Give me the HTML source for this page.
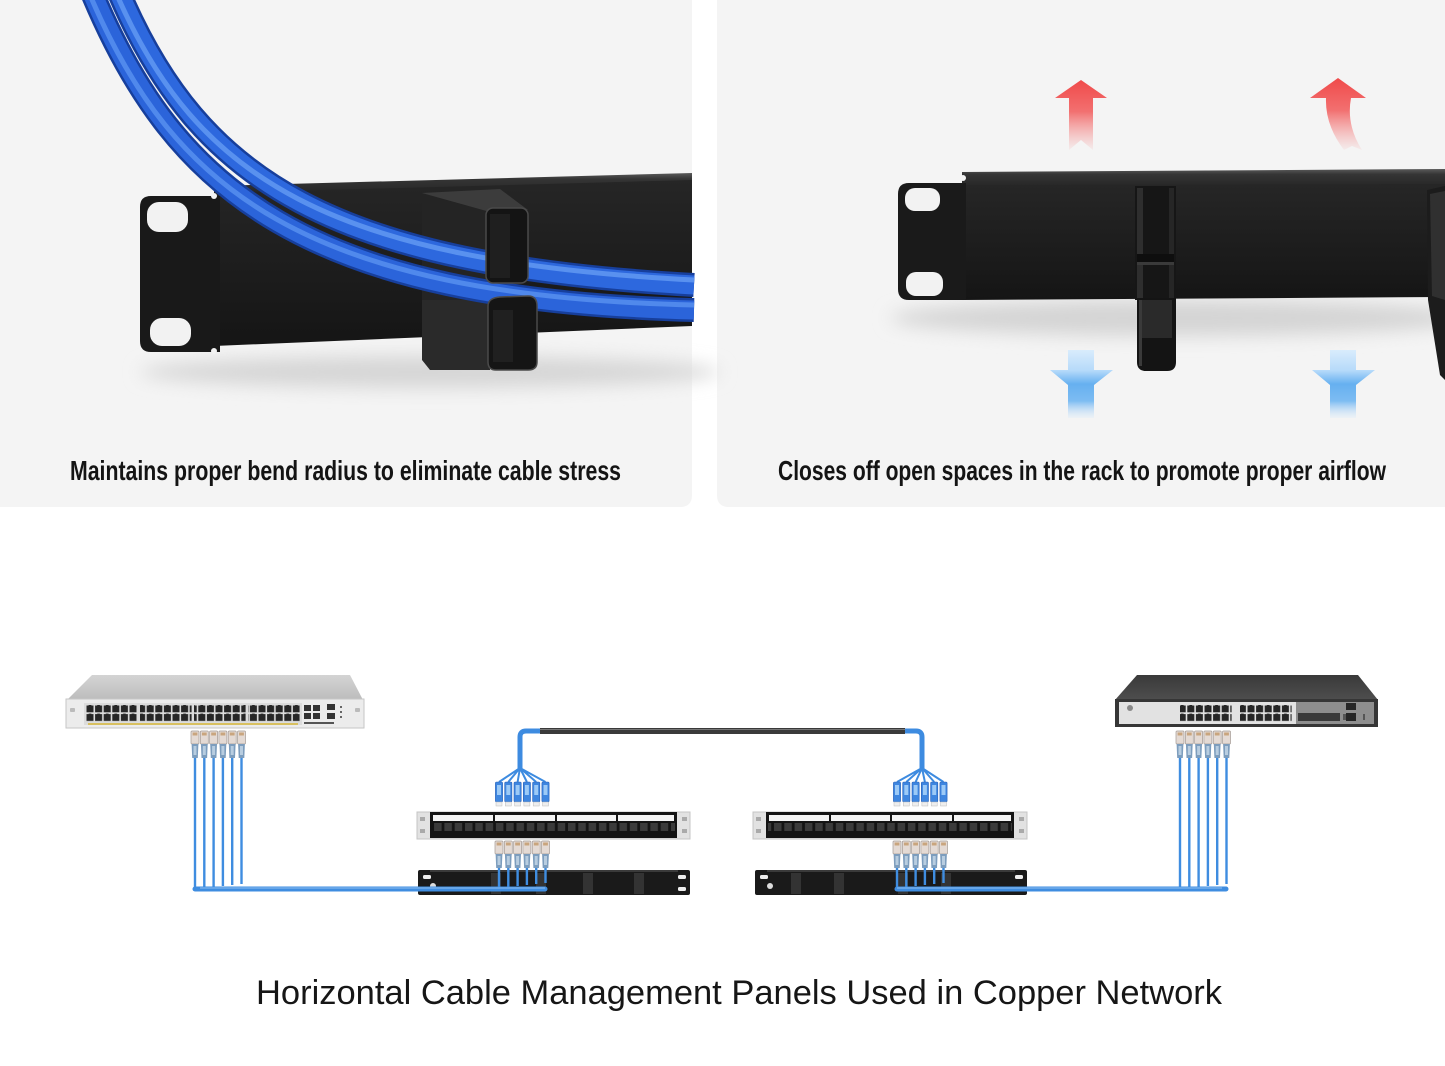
<!DOCTYPE html>
<html><head><meta charset="utf-8">
<style>
html,body{margin:0;padding:0;background:#fff;}
svg{display:block}
.cap{font-family:"Liberation Sans Narrow","Liberation Sans",sans-serif;font-weight:bold;fill:#141414;}
.cap2{font-family:"Liberation Sans Narrow","Liberation Sans",sans-serif;font-weight:normal;fill:#161616;}
</style></head><body>
<svg width="1445" height="1066" viewBox="0 0 1445 1066" xmlns="http://www.w3.org/2000/svg">
<defs>
  <filter id="blur8" x="-30%" y="-200%" width="160%" height="500%"><feGaussianBlur stdDeviation="9"/></filter>
  <linearGradient id="bodyL" x1="0" y1="0" x2="0" y2="1">
    <stop offset="0" stop-color="#262626"/><stop offset="1" stop-color="#151515"/>
  </linearGradient>
  <linearGradient id="lip" x1="0" y1="0" x2="0" y2="1">
    <stop offset="0" stop-color="#5a5a5a"/><stop offset="0.3" stop-color="#353535"/><stop offset="1" stop-color="#262626"/>
  </linearGradient>
  <linearGradient id="red" x1="0" y1="0" x2="0" y2="1">
    <stop offset="0" stop-color="#f04a4a"/><stop offset="0.45" stop-color="#f27070"/><stop offset="1" stop-color="#f6a0a0" stop-opacity="0.1"/>
  </linearGradient>
  <linearGradient id="blu" x1="0" y1="0" x2="0" y2="1">
    <stop offset="0" stop-color="#d9ecfc"/><stop offset="0.3" stop-color="#b6dafa"/><stop offset="0.5" stop-color="#66b0f0"/><stop offset="0.75" stop-color="#7dbcf2"/><stop offset="1" stop-color="#cfe6fb" stop-opacity="0.2"/>
  </linearGradient>
  <linearGradient id="swTop" x1="0" y1="0" x2="0" y2="1">
    <stop offset="0" stop-color="#d4d4d4"/><stop offset="1" stop-color="#bcbcbc"/>
  </linearGradient>
  <linearGradient id="swTop2" x1="0" y1="0" x2="0" y2="1">
    <stop offset="0" stop-color="#3a3a3a"/><stop offset="1" stop-color="#4e4e4e"/>
  </linearGradient>
  <pattern id="swp" x="0" y="705" width="8.6" height="8.6" patternUnits="userSpaceOnUse">
    <rect x="0.5" y="0.5" width="7" height="6.8" fill="#262626"/>
    <rect x="2.6" y="0" width="2.8" height="1.4" fill="#262626"/>
  </pattern>
  <pattern id="ppp" x="0" y="823" width="10.3" height="12" patternUnits="userSpaceOnUse">
    <rect x="1.5" y="0" width="7.5" height="8" fill="#3b3b3b"/>
  </pattern>
  <g id="plug">
    <rect x="0" y="0" width="8" height="13" rx="1" fill="#e4dad4" stroke="#a49a94" stroke-width="0.7"/>
    <rect x="1.6" y="1.5" width="4.8" height="3" fill="#c9a57e"/>
    <path d="M0.6 13 H7.4 L6.8 27 H1.2 Z" fill="#7d9dbd"/>
    <rect x="2.5" y="15" width="3" height="9" fill="#b8cde0"/>
  </g>
  <g id="lc">
    <rect x="0" y="0" width="7.2" height="20" rx="1.2" fill="#3e86e0" stroke="#2a62b8" stroke-width="0.6"/>
    <rect x="1.6" y="3" width="4" height="10" fill="#9ccaf7"/>
    <rect x="0.6" y="20" width="6" height="4" fill="#eeeeee" stroke="#bbb" stroke-width="0.5"/>
  </g>
</defs>

<rect width="1445" height="1066" fill="#ffffff"/>

<!-- Top panels -->
<path d="M0 0 H692 V495 Q692 507 680 507 H0 Z" fill="#f4f4f4"/>
<path d="M717 0 H1445 V507 H729 Q717 507 717 495 Z" fill="#f4f4f4"/>

<!-- ===== LEFT PHOTO ===== -->
<ellipse cx="430" cy="372" rx="290" ry="16" fill="#d6d6d6" filter="url(#blur8)"/>
<polygon points="214,192 692,178 692,326 214,346" fill="url(#bodyL)"/>
<polygon points="214,186 692,173 692,180 214,193" fill="url(#lip)"/>
<path d="M151 196 H220 V352 H151 Q140 352 140 341 V207 Q140 196 151 196 Z" fill="#191919"/>
<rect x="147" y="202" width="41" height="30" rx="12" fill="#f2f2f2"/>
<rect x="150" y="318" width="41" height="28" rx="12" fill="#f2f2f2"/>
<circle cx="214" cy="196" r="3" fill="#f2f2f2"/>
<circle cx="214" cy="351" r="3" fill="#f2f2f2"/>
<!-- finger side faces -->
<polygon points="422,194 490,212 490,334 422,338" fill="#242424"/>
<polygon points="422,300 490,300 490,370 430,370 422,360" fill="#2a2a2a"/>
<polygon points="422,193 500,189 528,210 490,212" fill="#3c3c3c"/>
<!-- cables -->
<g fill="none" stroke-linecap="butt">
  <path d="M93 -5 C175 190, 305 300, 694 310" stroke="#173f9c" stroke-width="24"/>
  <path d="M93 -5 C175 190, 305 300, 694 310" stroke="#2b64da" stroke-width="19"/>
  <path d="M90 -5 C172 188, 303 296, 694 305" stroke="#5a92f0" stroke-width="5" opacity="0.8"/>
  <path d="M120 -5 C200 180, 330 265, 694 285" stroke="#173f9c" stroke-width="24"/>
  <path d="M120 -5 C200 180, 330 265, 694 285" stroke="#2d68de" stroke-width="19"/>
  <path d="M117 -5 C197 178, 328 261, 694 280" stroke="#6199f2" stroke-width="5" opacity="0.85"/>
</g>
<rect x="486" y="208" width="42" height="75" rx="7" fill="#141414" stroke="#4a4a4a" stroke-width="1.5"/>
<rect x="490" y="214" width="20" height="64" fill="#1f1f1f"/>
<path d="M488 306 Q488 298 500 297 L528 296 Q537 296 537 306 V362 Q537 370 528 370 H496 Q488 370 488 362 Z" fill="#151515" stroke="#4a4a4a" stroke-width="1.5"/>
<rect x="493" y="310" width="20" height="52" fill="#202020"/>

<!-- ===== RIGHT PHOTO ===== -->
<ellipse cx="1180" cy="318" rx="290" ry="18" fill="#d4d4d4" filter="url(#blur8)"/>
<path d="M1081 80 L1107 98 L1093 98 L1093 150 L1081 140 L1069 150 L1069 98 L1055 98 Z" fill="url(#red)"/>
<path d="M1338 78 L1366 98 L1351 98 Q1346 125 1362 150 L1352 146 L1344 150 Q1325 125 1326 98 L1310 98 Z" fill="url(#red)"/>
<polygon points="962,172 1445,169 1445,186 962,187" fill="url(#lip)"/>
<polygon points="962,185 1445,184 1445,297 962,300" fill="url(#bodyL)"/>
<path d="M909 183 H966 V300 H909 Q898 300 898 289 V194 Q898 183 909 183 Z" fill="#1a1a1a"/>
<rect x="905" y="188" width="35" height="23" rx="10" fill="#f2f2f2"/>
<rect x="906" y="272" width="37" height="24" rx="10" fill="#f2f2f2"/>
<circle cx="963" cy="178" r="3" fill="#f4f4f4"/>
<rect x="1135" y="186" width="41" height="114" fill="#161616"/>
<rect x="1137" y="188" width="6" height="110" fill="#2e2e2e"/>
<rect x="1169" y="188" width="5" height="110" fill="#262626"/>
<rect x="1137" y="254" width="37" height="10" fill="#0e0e0e"/>
<rect x="1137" y="262" width="37" height="3" fill="#3a3a3a"/>
<path d="M1137 298 H1176 V362 Q1176 371 1167 371 H1146 Q1137 371 1137 362 Z" fill="#141414"/>
<rect x="1141" y="300" width="31" height="38" fill="#2a2a2a"/>
<rect x="1139" y="300" width="3" height="66" fill="#3a3a3a"/>
<polygon points="1427,190 1445,186 1445,380 1440,375 1428,300" fill="#1c1c1c"/>
<polygon points="1430,194 1445,191 1445,300 1432,296" fill="#303030"/>
<path d="M1068 350 H1094 V370 H1113 L1094 385 V418 H1068 V385 L1050 370 H1068 Z" fill="url(#blu)"/>
<path d="M1330 350 H1356 V370 H1375 L1356 385 V418 H1330 V385 L1312 370 H1330 Z" fill="url(#blu)"/>

<!-- captions -->
<text class="cap" x="70" y="480" font-size="28" textLength="551" lengthAdjust="spacingAndGlyphs">Maintains proper bend radius to eliminate cable stress</text>
<text class="cap" x="778" y="480" font-size="28" textLength="608" lengthAdjust="spacingAndGlyphs">Closes off open spaces in the rack to promote proper airflow</text>

<!-- ===== BOTTOM DIAGRAM ===== -->
<polygon points="92,675 350,675 363,700 67,700" fill="url(#swTop)"/>
<rect x="66" y="699" width="298" height="29" fill="#ececec" stroke="#c6c6c6" stroke-width="1"/>
<rect x="70" y="708" width="5" height="4" rx="1" fill="#bbb"/>
<rect x="355" y="708" width="5" height="4" rx="1" fill="#bbb"/>
<rect x="84" y="703" width="218" height="22" fill="#dcdcdc"/>
<rect x="86" y="705" width="51.6" height="17" fill="url(#swp)"/>
<rect x="140" y="705" width="51.6" height="17" fill="url(#swp)"/>
<rect x="194" y="705" width="51.6" height="17" fill="url(#swp)"/>
<rect x="248" y="705" width="51.6" height="17" fill="url(#swp)"/>
<rect x="88" y="723" width="210" height="2" fill="#d8c060"/>
<rect x="304" y="705" width="7" height="6" fill="#333"/><rect x="313" y="705" width="7" height="6" fill="#333"/>
<rect x="304" y="713" width="7" height="6" fill="#333"/><rect x="313" y="713" width="7" height="6" fill="#333"/>
<rect x="327" y="704" width="8" height="6" fill="#333"/><rect x="327" y="713" width="8" height="6" fill="#333"/>
<rect x="340" y="706" width="2" height="2" fill="#666"/><rect x="340" y="711" width="2" height="2" fill="#666"/><rect x="340" y="716" width="2" height="2" fill="#666"/>
<rect x="304" y="722" width="30" height="2" fill="#555"/>

<polygon points="1137,675 1358,675 1378,700 1115,700" fill="url(#swTop2)"/>
<rect x="1115" y="699" width="263" height="28" fill="#363636"/>
<rect x="1119" y="702" width="177" height="22" fill="#e2e2e2"/>
<rect x="1296" y="702" width="78" height="22" fill="#8e8e8e"/>
<circle cx="1130" cy="708" r="3" fill="#888"/>
<rect x="1180" y="705" width="51.6" height="17" fill="url(#swp)"/>
<rect x="1240" y="705" width="51.6" height="17" fill="url(#swp)"/>
<rect x="1298" y="713" width="42" height="8" fill="#3a3a3a"/>
<rect x="1343" y="714" width="4" height="6" fill="#555"/>
<rect x="1346" y="703" width="10" height="7" fill="#262626"/>
<rect x="1346" y="713" width="10" height="8" fill="#262626"/>
<rect x="1363" y="714" width="2" height="6" fill="#555"/>

<use href="#plug" x="191" y="731"/><use href="#plug" x="200.3" y="731"/><use href="#plug" x="209.6" y="731"/>
<use href="#plug" x="218.9" y="731"/><use href="#plug" x="228.2" y="731"/><use href="#plug" x="237.5" y="731"/>
<use href="#plug" x="1176" y="731"/><use href="#plug" x="1185.3" y="731"/><use href="#plug" x="1194.6" y="731"/>
<use href="#plug" x="1203.9" y="731"/><use href="#plug" x="1213.2" y="731"/><use href="#plug" x="1222.5" y="731"/>

<path d="M520 770 V737 Q520 731 526 731 H540" fill="none" stroke="#3d8be0" stroke-width="5"/>
<path d="M540 731 H905" fill="none" stroke="#3a3a3a" stroke-width="6"/>
<path d="M540 729.5 H905" fill="none" stroke="#777" stroke-width="1"/>
<path d="M905 731 H916 Q922 731 922 737 V770" fill="none" stroke="#3d8be0" stroke-width="5"/>
<g fill="none" stroke="#3d8be0" stroke-width="2">
  <path d="M520 768 L499 782 M520 768 L508.3 782 M520 768 L517.6 782 M520 768 L526.9 782 M520 768 L536.2 782 M520 768 L545.5 782"/>
  <path d="M922 768 L897 782 M922 768 L906.3 782 M922 768 L915.6 782 M922 768 L924.9 782 M922 768 L934.2 782 M922 768 L943.5 782"/>
</g>
<use href="#lc" x="495.4" y="782"/><use href="#lc" x="504.7" y="782"/><use href="#lc" x="514" y="782"/>
<use href="#lc" x="523.3" y="782"/><use href="#lc" x="532.6" y="782"/><use href="#lc" x="541.9" y="782"/>
<use href="#lc" x="893.4" y="782"/><use href="#lc" x="902.7" y="782"/><use href="#lc" x="912" y="782"/>
<use href="#lc" x="921.3" y="782"/><use href="#lc" x="930.6" y="782"/><use href="#lc" x="939.9" y="782"/>

<g>
  <rect x="417" y="812" width="273" height="27" fill="#e2e2e2" stroke="#c4c4c4" stroke-width="1"/>
  <rect x="420" y="817" width="5" height="4" fill="#aaa"/><rect x="420" y="829" width="5" height="4" fill="#aaa"/>
  <rect x="682" y="817" width="5" height="4" fill="#aaa"/><rect x="682" y="829" width="5" height="4" fill="#aaa"/>
  <rect x="430" y="812" width="247" height="26" fill="#141414"/>
  <rect x="433" y="815" width="241" height="6" fill="#f4f4f4"/>
  <rect x="493" y="814" width="2" height="8" fill="#141414"/><rect x="555" y="814" width="2" height="8" fill="#141414"/><rect x="616" y="814" width="2" height="8" fill="#141414"/>
  <rect x="432" y="823" width="243" height="9" fill="url(#ppp)"/>
</g>
<g>
  <rect x="753" y="812" width="274" height="27" fill="#e2e2e2" stroke="#c4c4c4" stroke-width="1"/>
  <rect x="756" y="817" width="5" height="4" fill="#aaa"/><rect x="756" y="829" width="5" height="4" fill="#aaa"/>
  <rect x="1019" y="817" width="5" height="4" fill="#aaa"/><rect x="1019" y="829" width="5" height="4" fill="#aaa"/>
  <rect x="766" y="812" width="248" height="26" fill="#141414"/>
  <rect x="769" y="815" width="242" height="6" fill="#f4f4f4"/>
  <rect x="829" y="814" width="2" height="8" fill="#141414"/><rect x="890" y="814" width="2" height="8" fill="#141414"/><rect x="952" y="814" width="2" height="8" fill="#141414"/>
  <rect x="768" y="823" width="244" height="9" fill="url(#ppp)"/>
</g>

<g>
  <rect x="418" y="870" width="272" height="25" rx="2" fill="#1a1a1a"/>
  <rect x="430" y="870" width="248" height="2" fill="#3a3a3a"/>
  <rect x="423" y="875" width="8" height="4" rx="1.5" fill="#eee"/>
  <circle cx="433" cy="886" r="3" fill="#ddd"/>
  <rect x="678" y="875" width="8" height="4" rx="1.5" fill="#eee"/><rect x="678" y="887" width="8" height="4" rx="1.5" fill="#eee"/>
  <rect x="491" y="873" width="10" height="21" fill="#333"/><rect x="536" y="873" width="10" height="21" fill="#333"/>
  <rect x="583" y="873" width="10" height="21" fill="#333"/><rect x="634" y="873" width="10" height="21" fill="#333"/>
</g>
<g>
  <rect x="755" y="870" width="272" height="25" rx="2" fill="#1a1a1a"/>
  <rect x="767" y="870" width="248" height="2" fill="#3a3a3a"/>
  <rect x="760" y="875" width="8" height="4" rx="1.5" fill="#eee"/>
  <circle cx="770" cy="886" r="3" fill="#ddd"/>
  <rect x="1015" y="875" width="8" height="4" rx="1.5" fill="#eee"/><rect x="1015" y="887" width="8" height="4" rx="1.5" fill="#eee"/>
  <rect x="791" y="873" width="10" height="21" fill="#333"/><rect x="834" y="873" width="10" height="21" fill="#333"/>
  <rect x="898" y="873" width="10" height="21" fill="#333"/><rect x="941" y="873" width="10" height="21" fill="#333"/>
</g>

<use href="#plug" x="495" y="841"/><use href="#plug" x="504.3" y="841"/><use href="#plug" x="513.6" y="841"/>
<use href="#plug" x="522.9" y="841"/><use href="#plug" x="532.2" y="841"/><use href="#plug" x="541.5" y="841"/>
<use href="#plug" x="893" y="841"/><use href="#plug" x="902.3" y="841"/><use href="#plug" x="911.6" y="841"/>
<use href="#plug" x="920.9" y="841"/><use href="#plug" x="930.2" y="841"/><use href="#plug" x="939.5" y="841"/>

<g fill="none" stroke="#3f8de0" stroke-width="2.4">
  <path d="M195 758 V890 M204.3 758 V888 M213.6 758 V887 M222.9 758 V886 M232.2 758 V885 M241.5 758 V884"/>
  <path d="M499 868 V888 M508.3 868 V887 M517.6 868 V886 M526.9 868 V885 M536.2 868 V884 M545.5 868 V883"/>
  <path d="M897 868 V888 M906.3 868 V887 M915.6 868 V886 M924.9 868 V885 M934.2 868 V884 M943.5 868 V883"/>
  <path d="M1180 758 V890 M1189.3 758 V888 M1198.6 758 V887 M1207.9 758 V886 M1217.2 758 V885 M1226.5 758 V884"/>
</g>
<g fill="none" stroke="#3f8de0" stroke-linecap="round">
  <path d="M195 889 H545" stroke-width="5"/>
  <path d="M897 889 H1226" stroke-width="5"/>
</g>
<g fill="none" stroke="#8cc0f2" stroke-width="1">
  <path d="M200 888 H545"/><path d="M897 888 H1222"/>
</g>

<text class="cap2" x="256" y="1004" font-size="34" textLength="966" lengthAdjust="spacingAndGlyphs">Horizontal Cable Management Panels Used in Copper Network</text>
</svg>
</body></html>
